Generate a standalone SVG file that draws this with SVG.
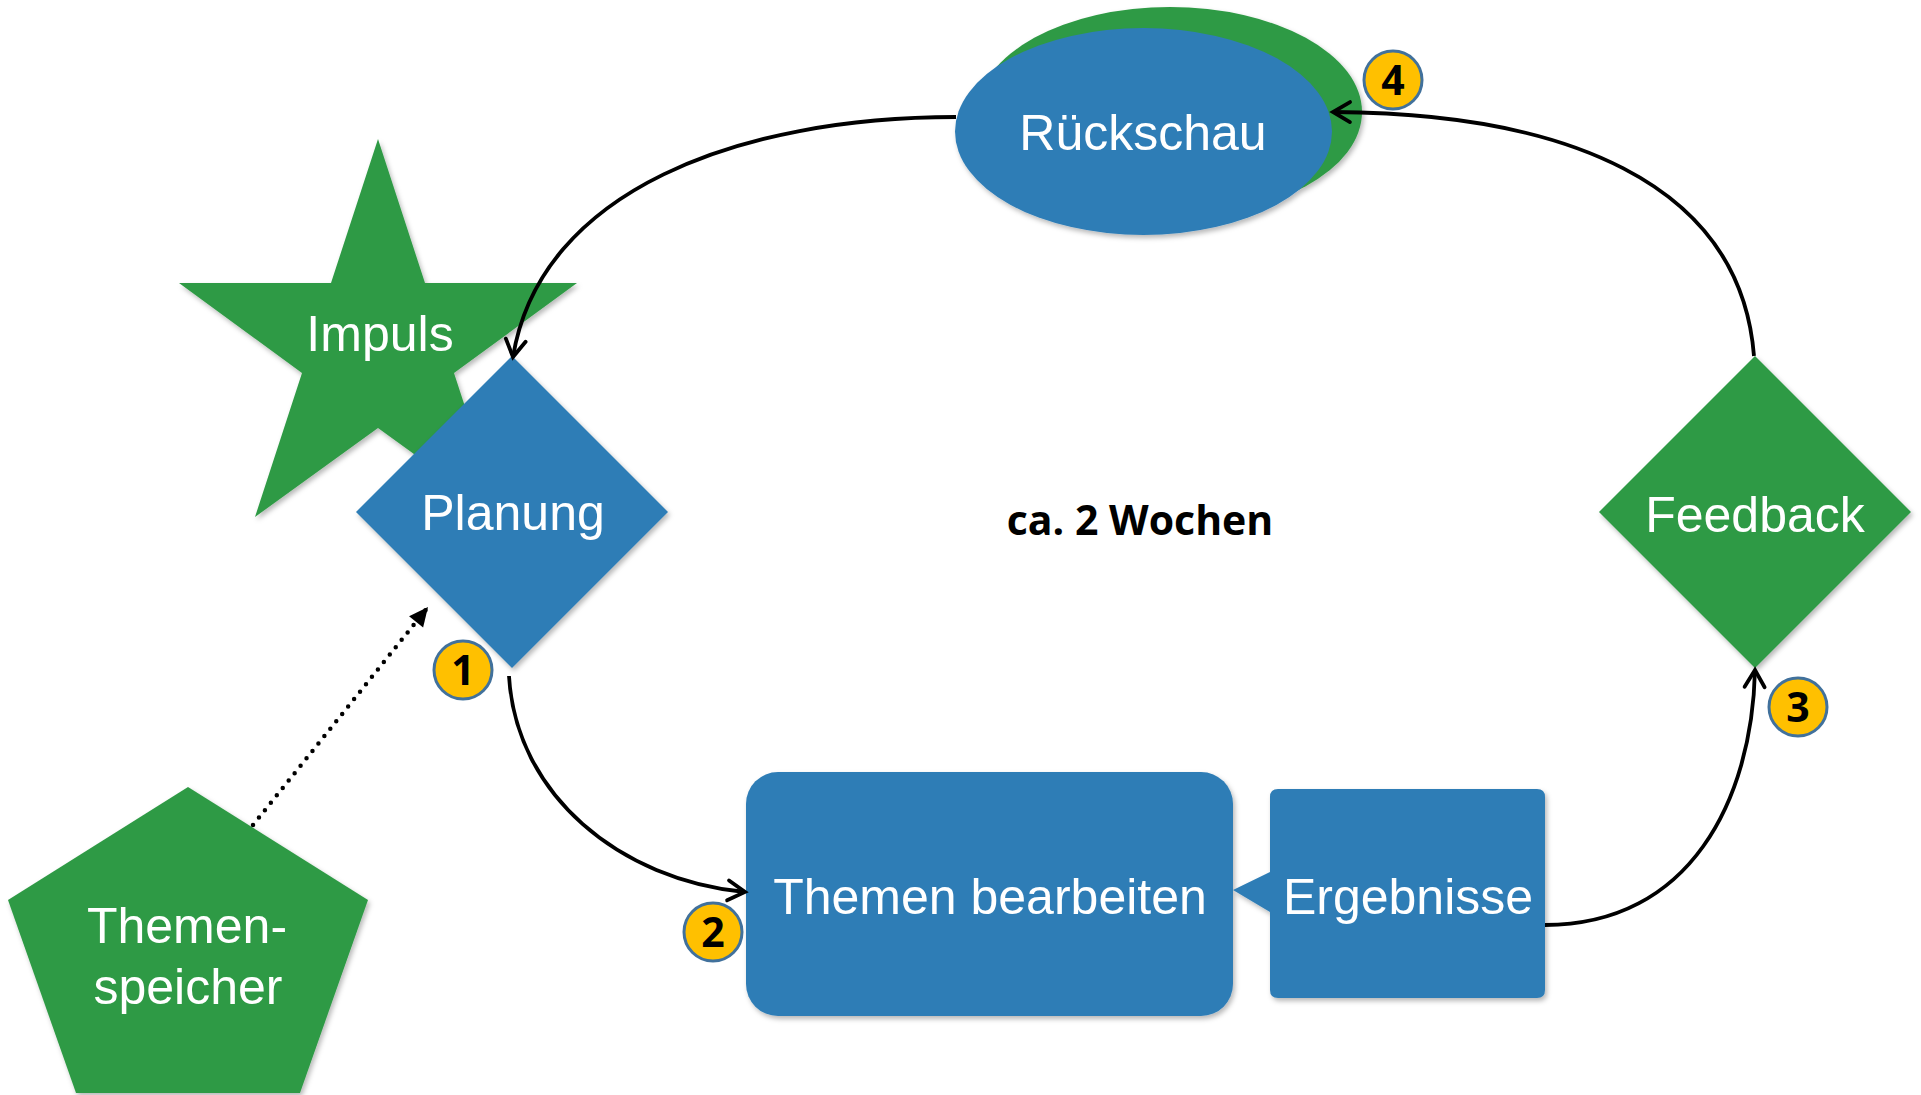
<svg xmlns="http://www.w3.org/2000/svg" width="1921" height="1095" viewBox="0 0 1921 1095">
  <style>
    .blue { fill: #2f7db6; }
    .green { fill: #2f9a45; }
    .label { font-family: "Liberation Sans", Arial, sans-serif; font-size: 50px; fill: #ffffff; text-anchor: middle; }
    .note { font-family: "Open Sans", "Noto Sans", sans-serif; font-size: 41px; font-weight: bold; fill: #000000; text-anchor: middle; }
    .badge circle { fill: #ffc000; stroke: #41719c; stroke-width: 3; }
    .badge text { font-family: "Open Sans", "Noto Sans", sans-serif; font-size: 41px; font-weight: bold; fill: #000000; text-anchor: middle; }
    .flow { fill: none; stroke: #000000; stroke-width: 3.8; marker-end: url(#open); }
    .dotted { fill: none; stroke: #000000; stroke-width: 4.5; stroke-linecap: round; stroke-dasharray: 0 9.5; marker-end: url(#solid); }
  </style>
  <defs>
    <filter id="shade" x="-10%" y="-10%" width="125%" height="125%">
      <feDropShadow dx="2" dy="3" stdDeviation="2.5" flood-color="#000000" flood-opacity="0.28"/>
    </filter>
    <marker id="open" markerUnits="userSpaceOnUse" viewBox="-22 -13 26 26" refX="0" refY="0" markerWidth="26" markerHeight="26" orient="auto">
      <path d="M -17 -10 L 0 0 L -17 10" fill="none" stroke="#000000" stroke-width="3.8" stroke-linecap="round" stroke-linejoin="miter"/>
    </marker>
    <marker id="solid" markerUnits="userSpaceOnUse" viewBox="-20 -10 22 20" refX="0" refY="0" markerWidth="22" markerHeight="20" orient="auto">
      <path d="M -19 -9 L 0 0 L -19 9 Z" fill="#000000"/>
    </marker>
  </defs>

  <rect x="0" y="0" width="1921" height="1095" fill="#ffffff"/>

  <!-- Rückschau: blue ellipse over a green one -->
  <g id="rueckschau" filter="url(#shade)">
    <ellipse class="green" cx="1170" cy="112" rx="192" ry="105"/>
    <ellipse class="blue" cx="1143.5" cy="131.5" rx="188.5" ry="103.5"/>
    <text class="label" x="1143" y="150">Rückschau</text>
  </g>

  <!-- Impuls star -->
  <g id="impuls" filter="url(#shade)">
    <polygon class="green" points="378,139 425,283 577,283 454,373 501,517 378,428 255,517 302,373 179,283 331,283"/>
    <text class="label" x="380" y="351">Impuls</text>
  </g>

  <!-- Planung diamond -->
  <g id="planung" filter="url(#shade)">
    <polygon class="blue" points="512,356 668,512 512,668 356,512"/>
    <text class="label" x="513" y="530">Planung</text>
  </g>

  <!-- Feedback diamond -->
  <g id="feedback" filter="url(#shade)">
    <polygon class="green" points="1755,356 1911,512 1755,668 1599,512"/>
    <text class="label" x="1755" y="532">Feedback</text>
  </g>

  <!-- Themenspeicher pentagon -->
  <g id="themenspeicher" filter="url(#shade)">
    <polygon class="green" points="188,787 368,900 300,1093 76,1093 8,900"/>
    <text class="label" x="187" y="943">Themen-</text>
    <text class="label" x="188" y="1004">speicher</text>
  </g>

  <!-- Themen bearbeiten -->
  <g id="themen-bearbeiten" filter="url(#shade)">
    <rect class="blue" x="746" y="772" width="487" height="244" rx="32" ry="32"/>
    <text class="label" x="990" y="914">Themen bearbeiten</text>
  </g>

  <!-- Ergebnisse callout pointing at Themen bearbeiten -->
  <g id="ergebnisse" filter="url(#shade)">
    <path class="blue" d="M 1278 789 H 1537 Q 1545 789 1545 797 V 990 Q 1545 998 1537 998 H 1278 Q 1270 998 1270 990 V 912 L 1233 890 L 1270 872 V 797 Q 1270 789 1278 789 Z"/>
    <text class="label" x="1408" y="914">Ergebnisse</text>
  </g>

  <!-- Duration note -->
  <g id="dauer">
    <text class="note" x="1140" y="535">ca. 2 Wochen</text>
  </g>

  <!-- Connectors -->
  <g id="connectors">
    <path class="flow" d="M 956 117 C 740 117, 540 190, 513 357"/>
    <path class="flow" d="M 509 676 C 516 795, 620 880, 745 892"/>
    <path class="flow" d="M 1545 925 C 1690 925, 1752 800, 1755 670"/>
    <path class="flow" d="M 1754 356 C 1740 180, 1560 113, 1333 112"/>
    <path class="dotted" d="M 253 825 L 428 607"/>
  </g>

  <!-- Step numbers -->
  <g id="badge-1" class="badge">
    <circle cx="463" cy="670" r="29"/>
    <text x="463" y="685">1</text>
  </g>
  <g id="badge-2" class="badge">
    <circle cx="713" cy="932" r="29"/>
    <text x="713" y="947">2</text>
  </g>
  <g id="badge-3" class="badge">
    <circle cx="1798" cy="707" r="29"/>
    <text x="1798" y="722">3</text>
  </g>
  <g id="badge-4" class="badge">
    <circle cx="1393" cy="80" r="29"/>
    <text x="1393" y="95">4</text>
  </g>
</svg>
